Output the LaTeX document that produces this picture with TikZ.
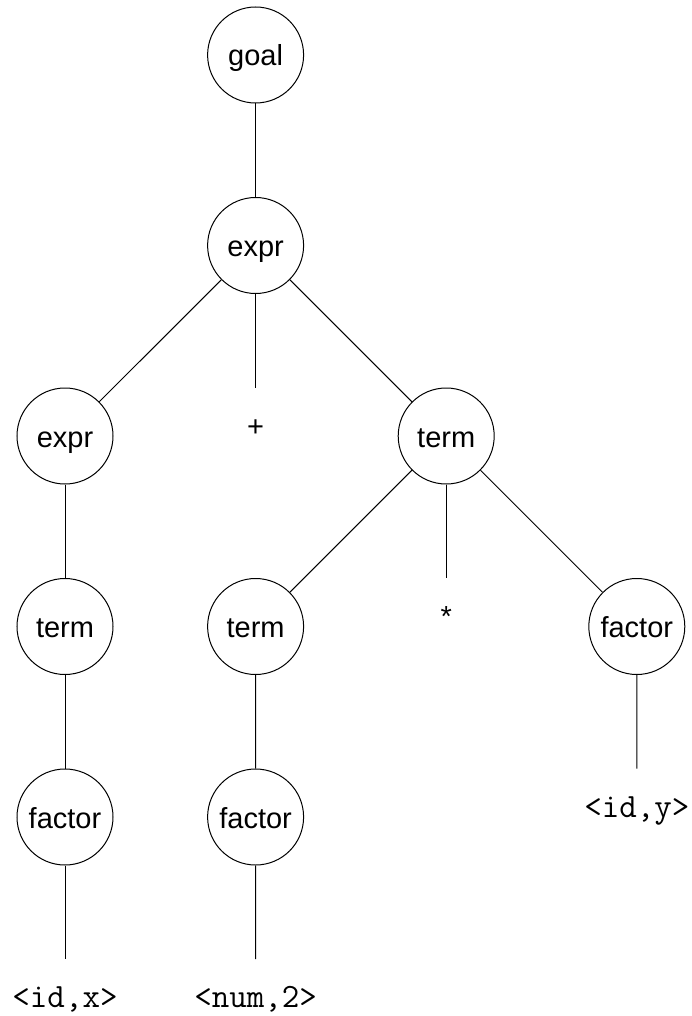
\documentclass[tikz,border=0pt]{standalone}
\usepackage{fontspec}
\setmainfont{Liberation Sans}
\usepackage{tikz}

\newcommand{\tokn}[1]{\makebox[0pt]{\texttt{#1}}}

\begin{document}
\begin{tikzpicture}[x=95.3pt, y=-95.25pt, line width=0.5pt,
        nt/.style={draw, circle, minimum size=48pt, inner sep=0pt,
            font=\fontsize{14.5pt}{17pt}\selectfont, text height=14.4pt, text depth=3.4pt},
        leaf/.style={circle, minimum size=48pt, inner sep=0pt,
            font=\fontsize{14.5pt}{17pt}\selectfont, text height=11pt, text depth=11pt},
        tok/.style={leaf, font=\fontsize{17pt}{19pt}\selectfont}]
        \useasboundingbox (-32.5pt,27.5pt) rectangle (313pt,-480.5pt);

        \node[nt] (goal) at (1, 0) {goal};
        \node[nt] (expr) at (1, 1) {expr};
        \node[nt] (exprL) at (0, 2) {expr};
        \node[leaf] (plus) at (1, 2) {+};
        \node[nt] (termR) at (2, 2) {term};
        \node[nt] (termL) at (0, 3) {term};
        \node[nt] (termM) at (1, 3) {term};
        \node[leaf] (star) at (2, 3) {*};
        \node[nt] (factorR) at (3, 3) {factor};
        \node[nt] (factorL) at (0, 4) {factor};
        \node[nt] (factorM) at (1, 4) {factor};
        \node[tok] (idy) at (3, 4) {\tokn{<id,y>}};
        \node[tok] (idx) at (0, 5) {\tokn{<id,x>}};
        \node[tok] (num2) at (1, 5) {\tokn{<num,2>}};

        \draw (goal) -- (expr);
        \draw (expr) -- (exprL);
        \draw (expr) -- (plus);
        \draw (expr) -- (termR);
        \draw (exprL) -- (termL) -- (factorL) -- (idx);
        \draw (termR) -- (termM) -- (factorM) -- (num2);
        \draw (termR) -- (star);
        \draw (termR) -- (factorR) -- (idy);
    \end{tikzpicture}
\end{document}
